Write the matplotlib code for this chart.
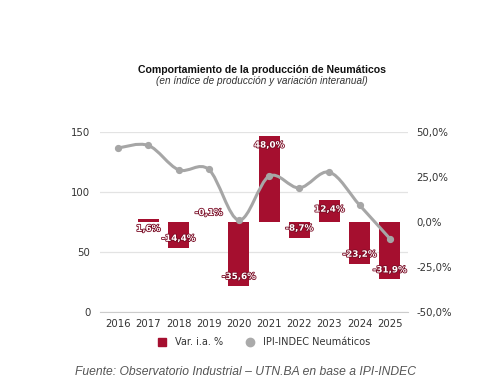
import numpy as np
import matplotlib
matplotlib.use("Agg")
import matplotlib.pyplot as plt
from matplotlib.path import Path
from matplotlib.patches import PathPatch
from matplotlib.lines import Line2D
import matplotlib.patheffects as pe

years = ['2016', '2017', '2018', '2019', '2020', '2021', '2022', '2023', '2024', '2025']
ipi = [136.7, 138.8, 118.5, 118.8, 76.5, 113.2, 103.4, 116.5, 89.0, 61.2]
var_years = ['2017', '2018', '2019', '2020', '2021', '2022', '2023', '2024', '2025']
var_ia = [1.6, -14.4, -0.1, -35.6, 48.0, -8.7, 12.4, -23.2, -31.9]

bar_col = '#a50f2f'
line_col = '#a6a6a6'
txt_col = '#333333'

fig = plt.figure(figsize=(5.03, 3.86), dpi=100)
rect = [0.199, 0.1917, 0.612, 0.4663]

# grid + left scale
ax = fig.add_axes(rect, zorder=0)
x = np.arange(len(years))
ax.set_xlim(-0.6, len(years) - 0.4)
ax.set_ylim(0, 150)
ax.set_yticks([0, 50, 100, 150])
ax.grid(axis='y', color='#e3e3e3', lw=0.9)
ax.set_axisbelow(True)
for s in ['top', 'right', 'left']:
    ax.spines[s].set_visible(False)
ax.spines['bottom'].set_color('#cccccc')
ax.set_xticks(x)
ax.set_xticklabels(years)
ax.tick_params(axis='both', length=0, labelsize=7.3, colors=txt_col)
ax.tick_params(axis='y', pad=7)
ax.tick_params(axis='x', pad=5)

# bars on right scale
ax2 = ax.twinx()
ax2.set_zorder(1)
ax2.patch.set_visible(False)
ax2.set_ylim(-50, 50)
ax2.set_yticks([-50, -25, 0, 25, 50])
ax2.set_yticklabels([('%.1f%%' % v).replace('.', ',') for v in [-50, -25, 0, 25, 50]])
ax2.tick_params(axis='y', length=0, labelsize=7.3, colors=txt_col, pad=6)
for s in ax2.spines.values():
    s.set_visible(False)
xb = [years.index(y) for y in var_years]
ax2.bar(xb, var_ia, width=0.7, color=bar_col)
for xi, v in zip(xb, var_ia):
    lab = ('%.1f%%' % v).replace('.', ',')
    off = -9.5 if v >= 0 else 9.5
    ax2.annotate(lab, (xi, v), xytext=(0, off), textcoords='offset pixels',
                 ha='center', va='center', fontsize=6.3, fontweight='bold', color='white',
                 path_effects=[pe.withStroke(linewidth=1.2, foreground='#7a0c25')])

# smooth line on left scale
ax3 = fig.add_axes(rect, sharex=ax, sharey=ax, zorder=2)
ax3.patch.set_visible(False)
ax3.axis('off')
P = np.column_stack([x, ipi]).astype(float)
verts = [P[0]]
codes = [Path.MOVETO]
n = len(P)
for i in range(n - 1):
    p0 = P[i - 1] if i > 0 else P[i]
    p3 = P[i + 2] if i + 2 < n else P[i + 1]
    c1 = P[i] + (P[i + 1] - p0) / 6.0
    c2 = P[i + 1] - (p3 - P[i]) / 6.0
    verts += [c1, c2, P[i + 1]]
    codes += [Path.CURVE4] * 3
ax3.add_patch(PathPatch(Path(verts, codes), fill=False, edgecolor=line_col, lw=2.2,
                        capstyle='round', joinstyle='round'))
ax3.plot(x, ipi, 'o', color=line_col, ms=4.2, mec=line_col)

fig.text(0.521, 0.818, 'Comportamiento de la producción de Neumáticos', ha='center', va='center',
         fontsize=7.6, fontweight='bold', family='Liberation Sans', color='#111111')
fig.text(0.521, 0.789, '(en índice de producción y variación interanual)', ha='center', va='center',
         fontsize=7.2, style='italic', family='Liberation Sans', color='#333333')

handles = [Line2D([], [], marker='s', ls='', color=bar_col, ms=6),
           Line2D([], [], marker='o', ls='', color='#aaaaaa', ms=6)]
fig.legend(handles, ['Var. i.a. %', 'IPI-INDEC Neumáticos'], loc='center',
           bbox_to_anchor=(0.52, 0.114), ncol=2, frameon=False, fontsize=7,
           handletextpad=0.3, columnspacing=1.8, labelcolor=txt_col)

fig.text(0.149, 0.035, 'Fuente: Observatorio Industrial – UTN.BA en base a IPI-INDEC', ha='left',
         va='center', fontsize=8.7, style='italic', family='Liberation Sans', color='#555555')

fig.savefig('out.png', dpi=100, facecolor='white')
